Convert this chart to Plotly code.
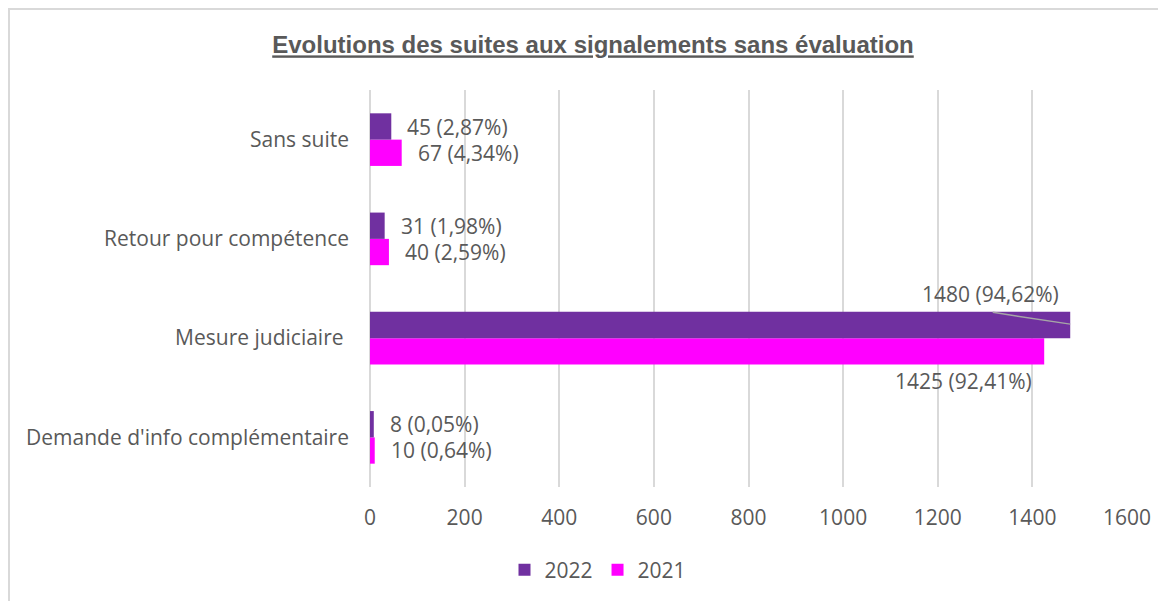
import plotly.graph_objects as go

# data
categories = ["Demande d'info complémentaire", "Mesure judiciaire ", "Retour pour compétence", "Sans suite"]
values_2022 = [8, 1480, 31, 45]
pct_2022 = ["0,05", "94,62", "1,98", "2,87"]
values_2021 = [10, 1425, 40, 67]
pct_2021 = ["0,64", "92,41", "2,59", "4,34"]
x_ticks = [0, 200, 400, 600, 800, 1000, 1200, 1400, 1600]

grey = "#595959"
font = "Open Sans"
fsize = 21

# plot area in figure pixels
L, R, T, B = 362, 1119, 82, 479
W, H = R - L, B - T

fig = go.Figure()
fig.add_trace(go.Bar(y=categories, x=values_2021, orientation="h", name="2021",
                     marker=dict(color="#FF00FF", line=dict(width=0)), legendrank=2))
fig.add_trace(go.Bar(y=categories, x=values_2022, orientation="h", name="2022",
                     marker=dict(color="#7030A0", line=dict(width=0)), legendrank=1))

lab = dict(family=font, size=fsize, color=grey)

# data labels
for cat, v, p in zip(categories, values_2022, pct_2022):
    txt = f"{v} ({p}%)"
    if v > 1000:
        # label moved above the bar, with a leader line
        fig.add_annotation(x=v, y=cat, text="", showarrow=True, arrowhead=0,
                           arrowwidth=1.5, arrowcolor="#a6a6a6", ax=-79, ay=-12,
                           yshift=14)
        fig.add_annotation(x=v, y=cat, text=txt, showarrow=False, xanchor="center",
                           xshift=-80, yshift=44, font=lab)
    else:
        fig.add_annotation(x=v, y=cat, text=txt, showarrow=False, xanchor="left",
                           xshift=14, yshift=13, font=lab)
for cat, v, p in zip(categories, values_2021, pct_2021):
    txt = f"{v} ({p}%)"
    if v > 1000:
        fig.add_annotation(x=v, y=cat, text=txt, showarrow=False, xanchor="right",
                           xshift=-10, yshift=-43, font=lab)
    else:
        fig.add_annotation(x=v, y=cat, text=txt, showarrow=False, xanchor="left",
                           xshift=14, yshift=-13, font=lab)

# outer frame of the chart
fig.add_shape(type="rect", xref="paper", yref="paper",
              x0=(1 - L) / W, x1=(1200 - L) / W,
              y0=-(640 - B) / H, y1=1 + (T - 1) / H,
              line=dict(color="#d9d9d9", width=2), fillcolor="rgba(0,0,0,0)", layer="below")

fig.update_layout(
    width=1166, height=601,
    paper_bgcolor="white", plot_bgcolor="white",
    margin=dict(l=L, r=1166 - R, t=T, b=601 - B),
    barmode="group", bargap=0.47, bargroupgap=0,
    font=dict(family=font, size=fsize, color=grey),
    title=dict(text="<b><u>Evolutions des suites aux signalements sans évaluation</u></b>",
               x=585 / 1166, xanchor="center", y=1 - 37 / 601, yanchor="middle",
               font=dict(family="Liberation Sans", size=24, color=grey)),
    legend=dict(orientation="h", xref="container", yref="container",
                x=590 / 1166, xanchor="center", y=1 - 562 / 601, yanchor="middle",
                font=dict(family=font, size=fsize, color=grey),
                itemwidth=30, traceorder="normal"),
    xaxis=dict(range=[0, 1600], tickvals=x_ticks, showgrid=True, gridcolor="#d9d9d9",
               gridwidth=2, zeroline=True, zerolinecolor="#d9d9d9", zerolinewidth=2,
               showline=False, ticks="", ticklabelstandoff=16, fixedrange=True),
    yaxis=dict(showgrid=False, showline=False, ticks="", ticklabelstandoff=20,
               fixedrange=True),
)

fig.write_html("out.html")
